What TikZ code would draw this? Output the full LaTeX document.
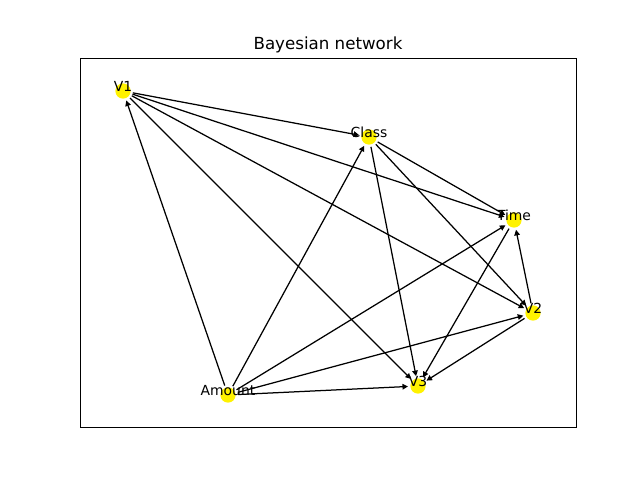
\documentclass[tikz,border=0pt]{standalone}
\usepackage{fontspec}
\setmainfont{DejaVu Sans}
\usetikzlibrary{arrows.meta}

\begin{document}
\begin{tikzpicture}[x=0.72pt, y=-0.72pt, >={Triangle[length=4pt,width=4pt]},
  vert/.style={circle, fill=yellow, inner sep=0pt, minimum size=11pt},
  lbl/.style={font=\fontsize{10}{12}\selectfont, inner sep=0pt}]
\useasboundingbox (0,0) rectangle (640,480);
\draw[line width=0.7pt] (80,58) rectangle (576,427);
\node[font=\fontsize{12}{14}\selectfont] (title) at (328,44.5) {Bayesian network};
% nodes
\node[vert] (v1) at (123,91) {};
\node[vert] (class) at (369,137) {};
\node[vert] (time) at (514,220) {};
\node[vert] (v2) at (533,313) {};
\node[vert] (v3) at (418,386) {};
\node[vert] (amount) at (228,395) {};
% edges
\foreach \a/\b in {v1/class, v1/time, v1/v2, v1/v3, amount/v1, amount/class,
  amount/time, amount/v2, amount/v3, class/time, class/v2, class/v3,
  time/v3, v2/time, v2/v3}
  \draw[->, line width=0.9pt, shorten >=1.5pt, shorten <=1.5pt] (\a) -- (\b);
% labels
\node[lbl] at ([yshift=3.5pt]v1) {V1};
\node[lbl] at ([yshift=3.5pt]class) {Class};
\node[lbl] at ([yshift=3.5pt]time) {Time};
\node[lbl] at ([yshift=3.5pt]v2) {V2};
\node[lbl] at ([yshift=3.5pt]v3) {V3};
\node[lbl] at ([yshift=3.5pt]amount) {Amount};
\end{tikzpicture}
\end{document}
